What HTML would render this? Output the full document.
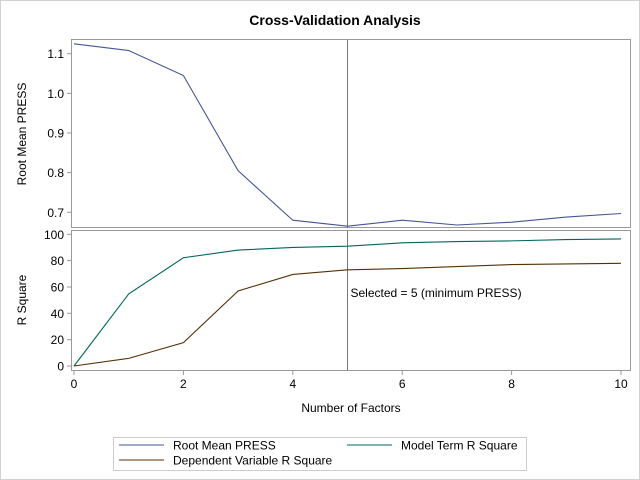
<!DOCTYPE html>
<html><head><meta charset="utf-8"><style>
body{margin:0;background:#fff}
svg{display:block;font-family:"Liberation Sans",Arial,sans-serif}
</style></head><body>
<svg id="c" width="640" height="480">
<rect x="0.5" y="0.5" width="639" height="479" fill="#fff" stroke="#d0d0d0"/>
<text x="335" y="25" text-anchor="middle" font-size="14" font-weight="bold">Cross-Validation Analysis</text>
<g id="g"></g>
</svg>
<script>
const factors=[0,1,2,3,4,5,6,7,8,9,10];
const pressValues=[1.125,1.108,1.045,0.805,0.68,0.665,0.68,0.668,0.675,0.688,0.697];
const modelR2=[0,54.7,82.2,88,90,91,93.5,94.5,95,96,96.5];
const depR2=[0,5.8,17.7,57,69.5,73,74,75.5,77,77.5,78];
const xTicks=[0,2,4,6,8,10];
const pressTicks=[0.7,0.8,0.9,1.0,1.1];
const r2Ticks=[0,20,40,60,80,100];
const selected=5;
const NS="http://www.w3.org/2000/svg";
const g=document.getElementById('g');
function el(t,a,p){const e=document.createElementNS(NS,t);for(const k in a)e.setAttribute(k,a[k]);(p||g).appendChild(e);return e;}
const X=v=>74+v*54.7;
const YP=v=>212.3-(v-0.7)/0.1*39.65;
const YR=v=>366-v*1.317;
const L=71,R=631;
let e;
e=el('rect',{x:L+.5,y:39.5,width:R-L-1,height:188,fill:'none',stroke:'#999'});


e=el('rect',{x:L+.5,y:230.5,width:R-L-1,height:140,fill:'none',stroke:'#999'});


pressTicks.forEach(t=>{const y=YP(t);
el('line',{x1:L-4,x2:L,y1:y,y2:y,stroke:'#999'});
e=el('text',{x:L-7,y:y+4.5,'text-anchor':'end','font-size':12});e.textContent=t.toFixed(1);

});
r2Ticks.forEach(t=>{const y=YR(t);
el('line',{x1:L-4,x2:L,y1:y,y2:y,stroke:'#999'});
e=el('text',{x:L-7,y:y+4.5,'text-anchor':'end','font-size':12});e.textContent=t;

});
xTicks.forEach(t=>{const x=X(t);
el('line',{x1:x,x2:x,y1:371,y2:375,stroke:'#999'});
e=el('text',{x:x,y:388,'text-anchor':'middle','font-size':12});e.textContent=t;

});
e=el('text',{x:0,y:0,'text-anchor':'middle','font-size':12,transform:`translate(26,134) rotate(-90)`});e.textContent='Root Mean PRESS';


e=el('text',{x:0,y:0,'text-anchor':'middle','font-size':12,transform:`translate(26,300) rotate(-90)`});e.textContent='R Square';


e=el('text',{x:351,y:412,'text-anchor':'middle','font-size':12});e.textContent='Number of Factors';


[[40,228],[231,370]].forEach(r=>{e=el('line',{x1:X(selected),x2:X(selected),y1:r[0],y2:r[1],stroke:'#777'});

});
e=el('text',{x:X(selected)+3,y:297,'font-size':12});e.textContent='Selected = 5 (minimum PRESS)';


function line(vals,Y,col,name){e=el('polyline',{points:factors.map((f,i)=>X(f)+','+Y(vals[i])).join(' '),fill:'none',stroke:col,'stroke-width':1.1});

}
line(pressValues,YP,'#445694','press-line');
line(modelR2,YR,'#01665e','model-r2-line');
line(depR2,YR,'#543005','dependent-r2-line');
e=el('rect',{x:113.5,y:437.5,width:413,height:33,fill:'none',stroke:'#ccc'});


[[119,445,'#445694','Root Mean PRESS'],[347,445,'#01665e','Model Term R Square'],[119,460,'#543005','Dependent Variable R Square']].forEach(d=>{
el('line',{x1:d[0],x2:d[0]+45,y1:d[1],y2:d[1],stroke:d[2]});
e=el('text',{x:d[0]+54,y:d[1]+4.5,'font-size':12});e.textContent=d[3];

});
</script>
</body></html>
